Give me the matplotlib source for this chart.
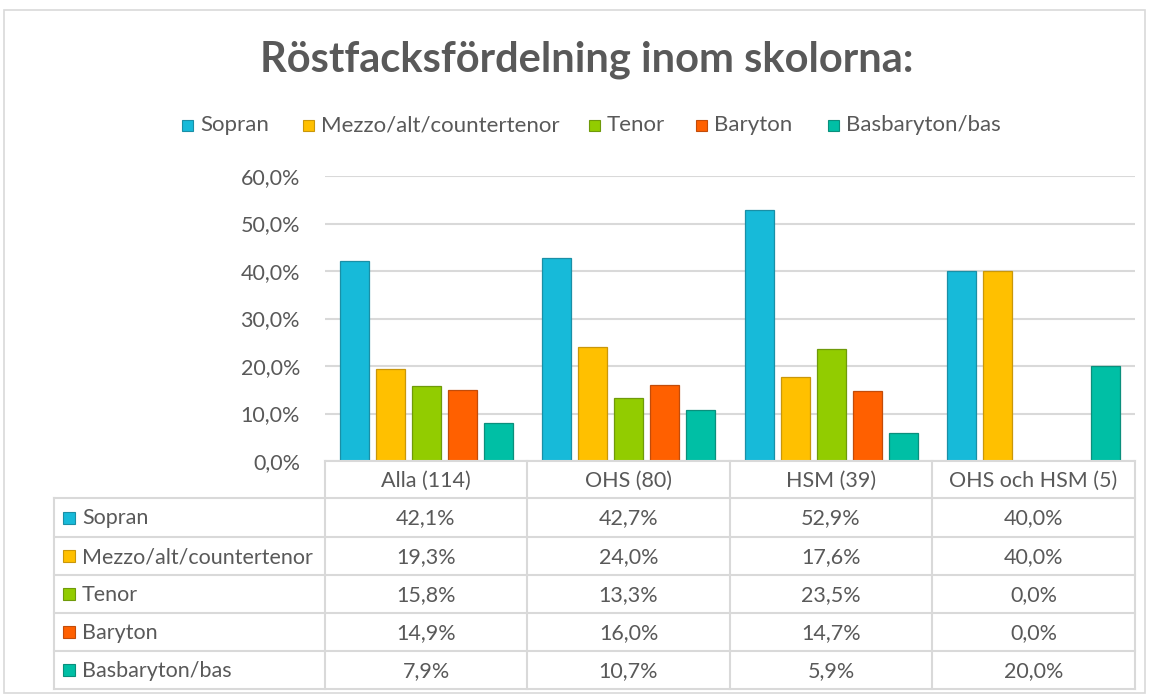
import matplotlib
matplotlib.use("Agg")
import matplotlib.pyplot as plt
from matplotlib.patches import Rectangle
from matplotlib.lines import Line2D

plt.rcParams['font.family'] = ['Lato', 'DejaVu Sans']

title = "Röstfacksfördelning inom skolorna:"
categories = ["Alla (114)", "OHS (80)", "HSM (39)", "OHS och HSM (5)"]
series = ["Sopran", "Mezzo/alt/countertenor", "Tenor", "Baryton", "Basbaryton/bas"]
sopran = [42.1, 42.7, 52.9, 40.0]
mezzo = [19.3, 24.0, 17.6, 40.0]
tenor = [15.8, 13.3, 23.5, 0.0]
baryton = [14.9, 16.0, 14.7, 0.0]
basbaryton = [7.9, 10.7, 5.9, 20.0]
values = [sopran, mezzo, tenor, baryton, basbaryton]
yticks = [0, 10, 20, 30, 40, 50, 60]

colors = ["#17BAD9", "#FFC000", "#92CC00", "#FF6000", "#00BFA5"]
edges = ["#1A8FA6", "#C9970A", "#6F9A0A", "#C24C0A", "#0A8F7C"]
txt = "#595959"
grid = "#D9D9D9"

W, H = 1150, 694
fig = plt.figure(figsize=(W / 100, H / 100), dpi=100)

def fx(x):
    return x / W

def fy(y):
    return 1 - y / H

# outer frame
fig.add_artist(Rectangle((fx(4), fy(693)), fx(1145) - fx(4), fy(10) - fy(693),
                         transform=fig.transFigure, fill=False, edgecolor="#D9D9D9", lw=1.2))

# plot area
L, R, T, B = 325, 1135, 176, 461
ax = fig.add_axes([fx(L), fy(B), fx(R) - fx(L), fy(T) - fy(B)])
n = len(categories)
spacing = 36 / 202
bw = 29 / 202
for k, (vals, c, e) in enumerate(zip(values, colors, edges)):
    xs = [i + (k - 2) * spacing for i in range(n)]
    ax.bar(xs, vals, width=bw, color=c, edgecolor=e, linewidth=0.9, zorder=3)
ax.set_xlim(-0.5, n - 0.5)
ax.set_ylim(0, 60)
ax.set_yticks(yticks)
ax.set_yticklabels([f"{t:.1f}%".replace('.', ',') for t in yticks], fontsize=15.5, color=txt)
ax.tick_params(axis='y', length=0, pad=18)
ax.set_xticks([])
for s in ax.spines.values():
    s.set_visible(False)
ax.yaxis.grid(True, color=grid, lw=1.5, zorder=0)
ax.set_axisbelow(True)

# title and legend
fig.text(fx(587), fy(60), title, ha='center', va='center', fontsize=30, fontweight='bold', color=txt)
leg_x = [182, 303, 589, 696, 828]
for x, name, c, e in zip(leg_x, series, colors, edges):
    fig.add_artist(Rectangle((fx(x), fy(131)), fx(11), 11 / H, transform=fig.transFigure,
                             facecolor=c, edgecolor=e, lw=0.8))
    fig.text(fx(x + 18), fy(131), name, ha='left', va='baseline', fontsize=16, color=txt)

# data table
col_x = [325, 527, 730, 932, 1135]
row_y = [461, 498, 537, 575, 613, 651, 689]
left_x = 54
line_kw = dict(transform=fig.transFigure, color="#D9D9D9", lw=1.5)
tfs = 15.5

# horizontal lines
fig.add_artist(Line2D([fx(L), fx(R)], [fy(row_y[0])] * 2, **line_kw))
for y in row_y[1:]:
    fig.add_artist(Line2D([fx(left_x), fx(R)], [fy(y)] * 2, **line_kw))
# vertical lines
for x in col_x:
    fig.add_artist(Line2D([fx(x)] * 2, [fy(row_y[0]), fy(row_y[-1])], **line_kw))
fig.add_artist(Line2D([fx(left_x)] * 2, [fy(row_y[1]), fy(row_y[-1])], **line_kw))

for j, cat in enumerate(categories):
    cx = (col_x[j] + col_x[j + 1]) / 2
    fig.text(fx(cx), fy((row_y[0] + row_y[1]) / 2 + 7), cat, ha='center', va='baseline',
             fontsize=tfs, color=txt)
for i, (name, vals, c, e) in enumerate(zip(series, values, colors, edges)):
    cy = (row_y[i + 1] + row_y[i + 2]) / 2
    fig.add_artist(Rectangle((fx(63), fy(cy + 6)), fx(12), 12 / H, transform=fig.transFigure,
                             facecolor=c, edgecolor=e, lw=0.8))
    fig.text(fx(82), fy(cy + 7), name, ha='left', va='baseline', fontsize=tfs, color=txt)
    for j, v in enumerate(vals):
        cx = (col_x[j] + col_x[j + 1]) / 2
        fig.text(fx(cx), fy(cy + 7), f"{v:.1f}%".replace('.', ','), ha='center', va='baseline',
                 fontsize=tfs, color=txt)

fig.savefig("out.png", dpi=100, facecolor="white")
